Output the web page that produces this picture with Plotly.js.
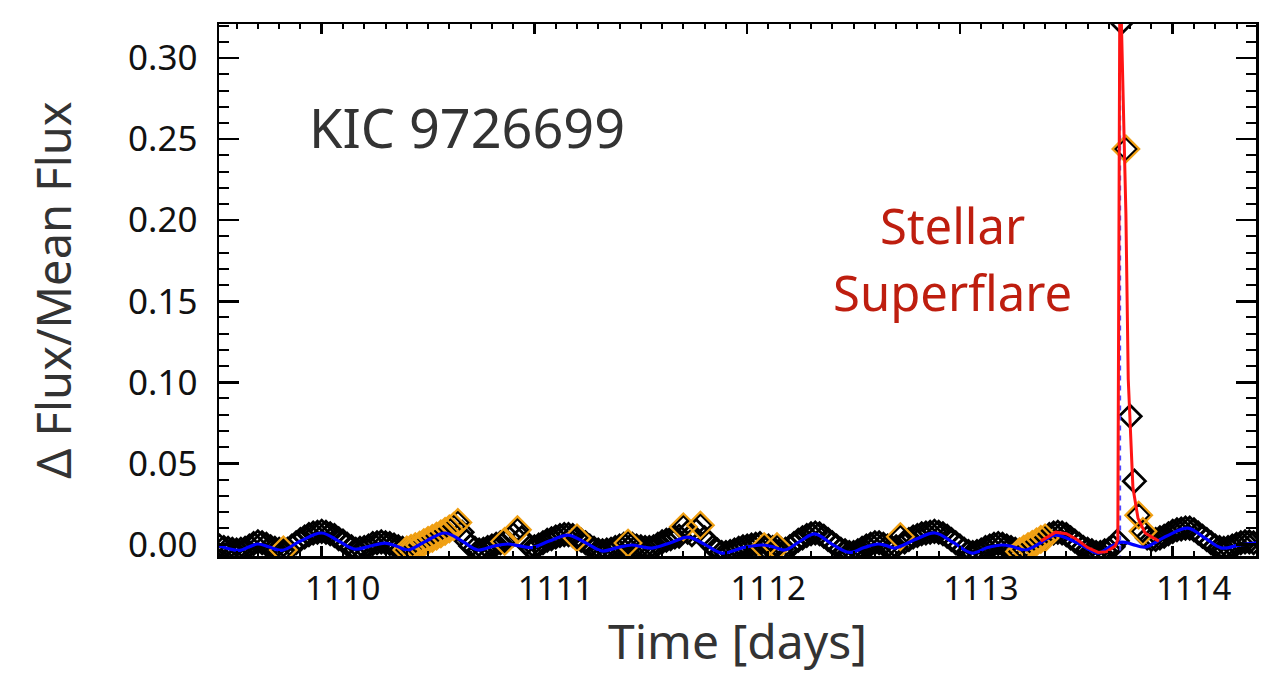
<!DOCTYPE html>
<html><head><meta charset="utf-8">
<script src="https://cdn.plot.ly/plotly-3.0.1.min.js"></script>
<style>html,body{margin:0;padding:0;background:#fff;}#chart{width:1271px;height:673px;}</style>
</head><body><div id="chart"></div>
<script>
// Kepler long-cadence light curve (days, delta flux / mean flux)
const time = [
1109.52,1109.54,1109.56,1109.58,1109.60,1109.62,1109.64,1109.66,1109.68,1109.70,1109.72,1109.74,1109.76,1109.78,1109.80,1109.82,1109.84,1109.86,1109.88,1109.90,1109.92,1109.94,1109.96,1109.98,
1110.00,1110.02,1110.04,1110.06,1110.08,1110.10,1110.12,1110.14,1110.16,1110.18,1110.20,1110.22,1110.24,1110.26,1110.28,1110.30,1110.32,1110.34,1110.36,1110.38,1110.40,1110.42,1110.44,1110.46,1110.48,1110.50,
1110.52,1110.54,1110.56,1110.58,1110.60,1110.62,1110.64,1110.66,1110.68,1110.70,1110.72,1110.74,1110.76,1110.78,1110.80,1110.82,1110.84,1110.86,1110.88,1110.90,1110.92,1110.94,1110.96,1110.98,
1111.00,1111.02,1111.04,1111.06,1111.08,1111.10,1111.12,1111.14,1111.16,1111.18,1111.20,1111.22,1111.24,1111.26,1111.28,1111.30,1111.32,1111.34,1111.36,1111.38,1111.40,1111.42,1111.44,1111.46,1111.48,1111.50,
1111.52,1111.54,1111.56,1111.58,1111.60,1111.62,1111.64,1111.66,1111.68,1111.70,1111.72,1111.74,1111.76,1111.78,1111.80,1111.82,1111.84,1111.86,1111.88,1111.90,1111.92,1111.94,1111.96,1111.98,
1112.00,1112.02,1112.04,1112.06,1112.08,1112.10,1112.12,1112.14,1112.16,1112.18,1112.20,1112.22,1112.24,1112.26,1112.28,1112.30,1112.32,1112.34,1112.36,1112.38,1112.40,1112.42,1112.44,1112.46,1112.48,1112.50,
1112.52,1112.54,1112.56,1112.58,1112.60,1112.62,1112.64,1112.66,1112.68,1112.70,1112.72,1112.74,1112.76,1112.78,1112.80,1112.82,1112.84,1112.86,1112.88,1112.90,1112.92,1112.94,1112.96,1112.98,
1113.00,1113.02,1113.04,1113.06,1113.08,1113.10,1113.12,1113.14,1113.16,1113.18,1113.20,1113.22,1113.24,1113.26,1113.28,1113.30,1113.32,1113.34,1113.36,1113.38,1113.40,1113.42,1113.44,1113.46,1113.48,1113.50,
1113.52,1113.54,1113.56,1113.58,1113.60,1113.62,1113.64,1113.66,1113.68,1113.70,1113.72,1113.74,1113.76,1113.78,1113.80,1113.82,1113.84,1113.86,1113.88,1113.90,1113.92,1113.94,1113.96,1113.98,
1114.00,1114.02,1114.04,1114.06,1114.08,1114.10,1114.12,1114.14,1114.16,1114.18,1114.20,1114.22,1114.24,1114.26,1114.28,1114.30,1114.32,1114.34,1114.36,1114.38
];
const flux = [
-0.001,-0.002,-0.0025,-0.003,-0.0035,-0.003,-0.0025,-0.001,0.0005,0.0015,0.001,0.000,-0.0015,-0.0025,-0.003,-0.0035,-0.003,-0.001,0.001,0.003,0.0045,0.006,0.007,0.0075,
0.008,0.0075,0.0065,0.0055,0.0035,0.002,0.000,-0.0015,-0.003,-0.0025,-0.002,-0.001,0.0005,0.001,0.0015,0.001,0.0005,-0.0005,-0.0015,-0.0025,-0.0035,-0.0025,-0.0015,-0.0005,0.001,0.0025,
0.0037,0.005,0.0065,0.008,0.0095,0.011,0.0135,0.0075,0.002,-0.001,-0.0025,-0.0035,-0.003,-0.002,-0.001,0.000,0.001,0.0018,0.004,0.006,0.009,0.004,0.0005,-0.0015,
-0.0015,-0.0005,0.001,0.0025,0.0035,0.0045,0.0055,0.006,0.006,0.0055,0.004,0.0025,0.001,-0.001,-0.0025,-0.0035,-0.004,-0.0035,-0.003,-0.002,-0.001,0.000,0.0008,0.000,-0.001,-0.0015,
-0.002,-0.002,-0.0015,0.000,0.0015,0.0025,0.0035,0.0045,0.005,0.0108,0.0075,0.006,0.0085,0.0118,0.004,0.001,-0.0015,-0.0035,-0.005,-0.005,-0.0045,-0.0035,-0.0025,-0.0015,
-0.001,-0.0005,0.000,0.0005,-0.0015,-0.001,-0.002,-0.0015,-0.003,-0.003,-0.0015,0.0005,0.0025,0.004,0.0055,0.0065,0.007,0.0065,0.005,0.003,0.001,-0.001,-0.003,-0.004,-0.005,-0.005,
-0.004,-0.0025,-0.001,0.000,0.001,0.001,0.000,-0.001,-0.002,-0.0015,0.0047,0.0015,0.003,0.0045,0.0055,0.0065,0.007,0.0075,0.008,0.0075,0.0065,0.005,0.003,0.001,
-0.001,-0.003,-0.0045,-0.005,-0.0045,-0.0035,-0.002,-0.001,0.000,0.0005,0.000,-0.001,-0.002,-0.003,-0.0045,-0.003,-0.0015,0.000,0.0015,0.003,0.004,0.006,0.007,0.0075,0.007,0.006,
0.004,0.002,0.000,-0.002,-0.003,-0.004,-0.005,-0.005,-0.004,-0.003,-0.0015,0.002,0.322,0.244,0.079,0.039,0.018,0.008,0.004,0.003,0.003,0.004,0.005,0.0065,
0.008,0.009,0.0095,0.010,0.010,0.009,0.007,0.005,0.003,0.001,-0.001,-0.002,-0.0025,-0.002,-0.001,0.000,0.001,0.0015,0.0015,0.001
];
// cadences flagged as flare candidates
const flaggedTime = [1109.82,1110.40,1110.42,1110.44,1110.46,1110.48,1110.50,1110.52,1110.54,1110.56,1110.58,1110.60,1110.62,1110.64,
1110.86,1110.92,1111.20,1111.44,1111.70,1111.78,1112.08,1112.14,1112.72,
1113.28,1113.30,1113.32,1113.34,1113.36,1113.38,1113.40,1113.78,1113.84,1113.86];
// smooth starspot (quiescent) model
const modelTime = [1109.50,1109.52,1109.57,1109.616,1109.66,1109.70,1109.75,1109.813,1109.90,1110.00,1110.08,1110.157,1110.23,1110.297,1110.35,1110.405,1110.49,1110.579,1110.66,1110.734,1110.81,1110.875,1110.93,1110.988,
1111.07,1111.157,1111.24,1111.317,1111.39,1111.458,1111.505,1111.553,1111.64,1111.722,1111.80,1111.881,1111.98,1112.069,1112.12,1112.177,1112.25,1112.318,1112.40,1112.48,1112.55,1112.614,1112.655,1112.694,
1112.79,1112.882,1112.97,1113.056,1113.13,1113.197,1113.25,1113.306,1113.38,1113.447,1113.55,1113.649,1113.70,1113.761,1113.81,1113.869,1113.97,1114.071,1114.15,1114.231,1114.31,1114.386,1114.40];
const modelFlux = [-0.0005,-0.001,-0.003,-0.0037,-0.0015,0.0002,-0.0015,-0.0037,0.002,0.007,0.002,-0.003,-0.001,0.0008,-0.001,-0.0035,0.002,0.007,0.002,-0.0035,-0.001,0.0002,-0.001,-0.002,
0.002,0.0057,0.001,-0.0041,-0.002,-0.0004,-0.0015,-0.0023,0.001,0.0045,0.000,-0.0054,-0.002,-0.0004,-0.0015,-0.0035,0.002,0.0064,0.000,-0.005,-0.002,0.0002,-0.0008,-0.0023,
0.003,0.007,0.001,-0.0054,-0.002,-0.0004,-0.0015,-0.0035,0.001,0.0057,0.001,-0.0054,-0.002,0.0014,0.000,-0.0017,0.005,0.010,0.004,-0.0023,-0.0005,0.0008,0.001];
// superflare fit
const fitTime = [1113.38,1113.41,1113.45,1113.50,1113.55,1113.60,1113.65,1113.69,1113.73,1113.742,1113.752,1113.780,1113.791,1113.813,1113.837,1113.870,1113.917,1113.935];
const fitFlux = [0.002,0.0045,0.0075,0.0065,0.003,-0.002,-0.005,-0.0045,-0.001,0.003,0.36,0.204,0.102,0.035,0.016,0.007,0.003,0.002];
// dashed marker of flare peak time
const peakMarkTime = [1113.753,1113.753];
const peakMarkFlux = [-0.01,0.33];

const flaggedFlux = flaggedTime.map(t => flux[time.findIndex(v => Math.abs(v - t) < 1e-6)]);

const FONT = 'Noto Sans, Open Sans, sans-serif';
const traces = [
  {x: time, y: flux, type: 'scatter', mode: 'markers',
   marker: {symbol: 'diamond-open', size: 17, color: '#000', line: {width: 2.8, color: '#000'}}},
  {x: flaggedTime, y: flaggedFlux, type: 'scatter', mode: 'markers',
   marker: {symbol: 'diamond-open', size: 20.5, color: 'rgb(240,160,20)', line: {width: 2.2, color: 'rgb(240,160,20)'}}},
  {x: modelTime, y: modelFlux, type: 'scatter', mode: 'lines',
   line: {color: '#0000ff', width: 3.2, shape: 'spline', smoothing: 1}},
  {x: peakMarkTime, y: peakMarkFlux, type: 'scatter', mode: 'lines',
   line: {color: 'rgb(80,70,255)', width: 2, dash: '5px,5px'}},
  {x: fitTime, y: fitFlux, type: 'scatter', mode: 'lines',
   line: {color: 'rgb(255,20,20)', width: 3}}
];

const layout = {
  width: 1271, height: 673,
  margin: {l: 219, r: 15, t: 24, b: 117},
  paper_bgcolor: '#fff', plot_bgcolor: '#fff',
  showlegend: false,
  font: {family: FONT, color: '#111'},
  xaxis: {
    range: [1109.5173, 1114.3915],
    tickmode: 'linear', tick0: 1110, dtick: 1,
    ticks: 'inside', ticklen: 10, tickwidth: 2.5, tickcolor: '#000',
    minor: {ticks: 'inside', tick0: 1110, dtick: 0.1, ticklen: 5, tickwidth: 2, tickcolor: '#000', showgrid: false},
    showline: true, linewidth: 2.5, linecolor: '#000', mirror: 'allticks',
    showgrid: false, zeroline: false,
    tickfont: {family: FONT, size: 33, color: '#111'},
    ticklabelshift: 21, ticklabelstandoff: 2,
    title: {text: 'Time [days]', font: {family: FONT, size: 48, color: '#333'}, standoff: 20}
  },
  yaxis: {
    range: [-0.0072, 0.3211],
    tickmode: 'linear', tick0: 0, dtick: 0.05, tickformat: '.2f',
    ticks: 'inside', ticklen: 20, tickwidth: 2.5, tickcolor: '#000',
    minor: {ticks: 'inside', tick0: 0, dtick: 0.01, ticklen: 10, tickwidth: 2, tickcolor: '#000', showgrid: false},
    showline: true, linewidth: 2.5, linecolor: '#000', mirror: 'allticks',
    showgrid: false, zeroline: false,
    tickfont: {family: FONT, size: 35, color: '#111'},
    ticklabelstandoff: 12,
    title: {text: '\u0394 Flux/Mean Flux', font: {family: FONT, size: 47, color: '#333'}, standoff: 42}
  },
  annotations: [
    {xref: 'paper', yref: 'paper', x: 0.0849, y: 0.806, xanchor: 'left', yanchor: 'middle', showarrow: false,
     text: 'KIC 9726699', font: {family: FONT, size: 54, color: '#333'}},
    {xref: 'paper', yref: 'paper', x: 0.7078, y: 0.622, xanchor: 'center', yanchor: 'middle', showarrow: false,
     text: 'Stellar', font: {family: FONT, size: 49, color: '#be1e0f'}},
    {xref: 'paper', yref: 'paper', x: 0.7078, y: 0.496, xanchor: 'center', yanchor: 'middle', showarrow: false,
     text: 'Superflare', font: {family: FONT, size: 49, color: '#be1e0f'}}
  ]
};

Plotly.newPlot('chart', traces, layout, {displayModeBar: false, staticPlot: true});
</script>
</body></html>
